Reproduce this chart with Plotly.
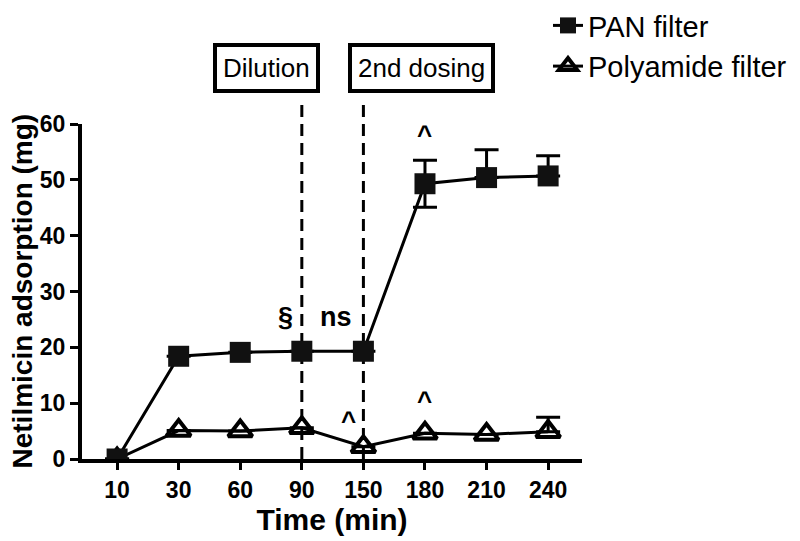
import plotly.graph_objects as go

categories = ["10", "30", "60", "90", "150", "180", "210", "240"]
pan = [0, 18.4, 19.1, 19.3, 19.3, 49.3, 50.4, 50.7]
pan_err_plus = [0, 0, 0, 0, 0, 4.2, 5.0, 3.6]
pan_err_minus = [0, 0, 0, 0, 0, 4.2, 0, 0]
poly = [0, 5.1, 5.0, 5.6, 2.2, 4.6, 4.4, 4.9]
poly_err_plus = [0, 0, 0, 0, 0, 0, 0, 2.6]
poly_err_minus = [0, 0, 0, 0, 0, 0, 0, 0]
y_ticks = [0, 10, 20, 30, 40, 50, 60]

FONT = "Liberation Sans, Arial, sans-serif"
xi = list(range(len(categories)))

fig = go.Figure()
fig.add_trace(go.Scatter(
    x=xi, y=poly, name="Polyamide filter", mode="lines+markers",
    line=dict(color="black", width=3),
    marker=dict(symbol="triangle-up-open", size=21, color="black", line=dict(width=4, color="black")),
    error_y=dict(type="data", array=poly_err_plus, arrayminus=poly_err_minus, color="black", thickness=3, width=12),
))
fig.add_trace(go.Scatter(
    x=xi, y=pan, name="PAN filter", mode="lines+markers",
    line=dict(color="black", width=3),
    marker=dict(symbol="square", size=21, color="#111111", line=dict(width=0)),
    error_y=dict(type="data", array=pan_err_plus, arrayminus=pan_err_minus, color="black", thickness=3, width=12),
))

# dashed vertical lines at 90 and 150
for idx in (3, 4):
    fig.add_shape(type="line", xref="x", yref="paper", x0=idx, x1=idx, y0=0, y1=1.066,
                  line=dict(color="black", width=3, dash="12px,7px"), layer="below")

# boxed labels
fig.add_annotation(x=2.42, y=1.242, xref="x", yref="paper", text="Dilution", showarrow=False,
                   font=dict(family=FONT, size=26, color="black"), bordercolor="black",
                   borderwidth=4, borderpad=6, bgcolor="white")
fig.add_annotation(x=4.95, y=1.242, xref="x", yref="paper", text="2nd dosing", showarrow=False,
                   font=dict(family=FONT, size=26, color="black"), bordercolor="black",
                   borderwidth=4, borderpad=6, bgcolor="white")

# significance marks
marks = [(2.73, 25.5, "§", 27), (3.55, 25.5, "ns", 27), (5.0, 58.0, "^", 26), (5.0, 10.3, "^", 26), (3.75, 6.8, "^", 26)]
for mx, my, mt, ms in marks:
    fig.add_annotation(x=mx, y=my, xref="x", yref="y", text="<b>" + mt + "</b>", showarrow=False,
                       font=dict(family=FONT, size=ms, color="black"))

# y-axis title as annotation for exact placement
fig.add_annotation(x=-0.12, y=0.5, xref="paper", yref="paper", text="<b>Netilmicin adsorption (mg)</b>",
                   textangle=-90, showarrow=False, xanchor="center", yanchor="middle",
                   font=dict(family=FONT, size=28, color="black"))

fig.update_layout(
    width=792, height=533,
    margin=dict(l=74, r=218, t=116, b=82, autoexpand=False),
    paper_bgcolor="white", plot_bgcolor="white",
    font=dict(family=FONT, color="black"),
    legend=dict(x=0.932, y=1.37, xanchor="left", yanchor="top", traceorder="reversed",
                font=dict(family=FONT, size=29, color="black"), bgcolor="rgba(0,0,0,0)",
                itemwidth=30, tracegroupgap=4),
    showlegend=True,
)
fig.update_xaxes(
    range=[-0.57, 7.55], tickmode="array", tickvals=xi, ticktext=categories,
    showline=True, linecolor="black", linewidth=4, showgrid=False, zeroline=False,
    ticks="outside", ticklen=7, tickwidth=3, tickcolor="black",
    tickfont=dict(family=FONT, size=23, color="black", weight="bold"),
    title=dict(text="<b>Time (min)</b>", font=dict(family=FONT, size=30, color="black"), standoff=2),
)
fig.update_yaxes(
    range=[0, 60], tickvals=y_ticks,
    showline=True, linecolor="black", linewidth=4, showgrid=False, zeroline=False,
    ticks="outside", ticklen=8, tickwidth=3, tickcolor="black",
    tickfont=dict(family=FONT, size=23, color="black", weight="bold"),
)

fig.write_html("out.html")
